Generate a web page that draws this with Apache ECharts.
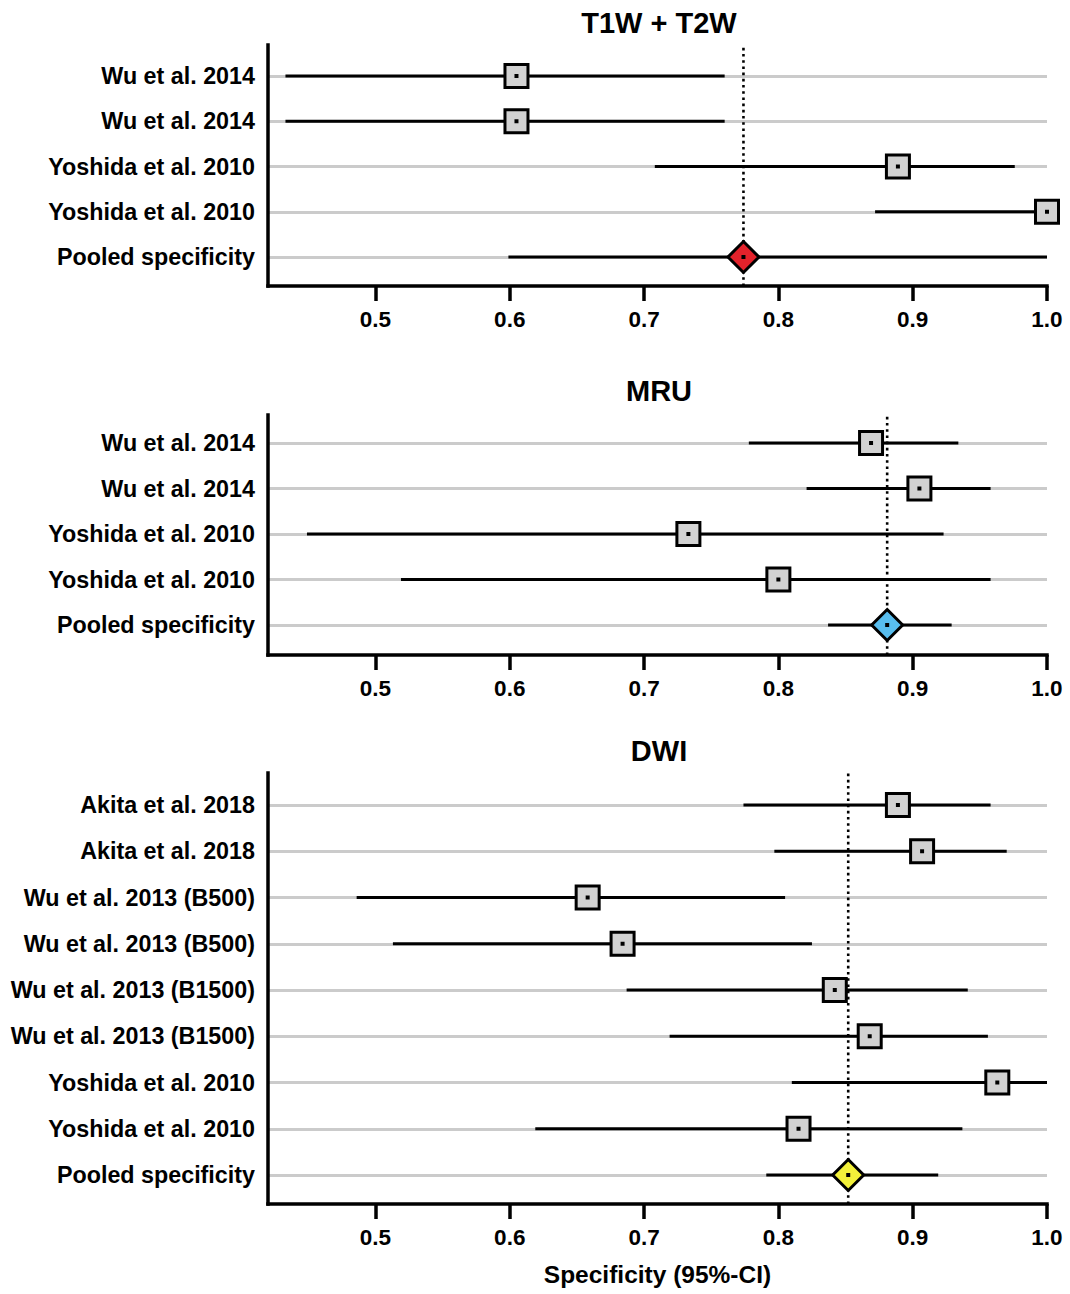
<!DOCTYPE html>
<html>
<head>
<meta charset="utf-8">
<script src="https://cdn.jsdelivr.net/npm/echarts@6/dist/echarts.min.js"></script>
<style>
html,body{margin:0;padding:0;background:#fff;}
#chart{width:1070px;height:1294px;}
</style>
</head>
<body>
<div id="chart"></div>
<script>
// ---------- DATA ----------
const panelTitles = ['T1W + T2W', 'MRU', 'DWI'];
const xTicks = [0.5, 0.6, 0.7, 0.8, 0.9, 1.0];
const xAxisTitle = 'Specificity (95%-CI)';

const t12Labels = ['Wu et al. 2014', 'Wu et al. 2014', 'Yoshida et al. 2010', 'Yoshida et al. 2010', 'Pooled specificity'];
const t12Est = [0.605, 0.605, 0.889, 1.000, 0.774];
const t12Lo  = [0.433, 0.433, 0.708, 0.872, 0.599];
const t12Hi  = [0.760, 0.760, 0.976, 1.000, 1.000];

const mruLabels = ['Wu et al. 2014', 'Wu et al. 2014', 'Yoshida et al. 2010', 'Yoshida et al. 2010', 'Pooled specificity'];
const mruEst = [0.869, 0.905, 0.733, 0.800, 0.881];
const mruLo  = [0.778, 0.821, 0.449, 0.519, 0.837];
const mruHi  = [0.934, 0.958, 0.923, 0.958, 0.929];

const dwiLabels = ['Akita et al. 2018', 'Akita et al. 2018', 'Wu et al. 2013 (B500)', 'Wu et al. 2013 (B500)', 'Wu et al. 2013 (B1500)', 'Wu et al. 2013 (B1500)', 'Yoshida et al. 2010', 'Yoshida et al. 2010', 'Pooled specificity'];
const dwiEst = [0.889, 0.907, 0.658, 0.684, 0.842, 0.868, 0.963, 0.815, 0.852];
const dwiLo  = [0.774, 0.797, 0.486, 0.513, 0.687, 0.719, 0.810, 0.619, 0.791];
const dwiHi  = [0.958, 0.970, 0.805, 0.825, 0.941, 0.956, 1.000, 0.937, 0.919];

// ---------- STYLE / LAYOUT ----------
const FONT = "'Liberation Sans', Arial, Helvetica, sans-serif";
const X_MIN = 0.42, X_MAX = 1.0;
const GRID_LEFT = 268, GRID_RIGHT = 23;
const pooledColors = ['#e3222b', '#58bdee', '#f3f13a'];
const layout = [
  {rowTop: 76,  rowBottom: 257,  frameTop: 45,  frameBottom: 286,  titleTop: 3},
  {rowTop: 443, rowBottom: 625,  frameTop: 415, frameBottom: 655,  titleTop: 371},
  {rowTop: 805, rowBottom: 1175, frameTop: 773, frameBottom: 1204, titleTop: 731}
];
const panels = [
  {labels: t12Labels, est: t12Est, lo: t12Lo, hi: t12Hi},
  {labels: mruLabels, est: mruEst, lo: mruLo, hi: mruHi},
  {labels: dwiLabels, est: dwiEst, lo: dwiLo, hi: dwiHi}
];

const chart = echarts.init(document.getElementById('chart'), null, {renderer: 'svg'});

const grid = [], xAxis = [], yAxis = [], series = [], title = [];

panels.forEach((p, i) => {
  const L = layout[i];
  const ga = i * 2, gb = i * 2 + 1;
  const n = p.labels.length;
  // data grid (rows)
  grid.push({left: GRID_LEFT, right: GRID_RIGHT, top: L.rowTop, height: L.rowBottom - L.rowTop});
  // frame grid (axes)
  grid.push({left: GRID_LEFT, right: GRID_RIGHT, top: L.frameTop, height: L.frameBottom - L.frameTop});

  xAxis.push({gridIndex: ga, type: 'value', min: X_MIN, max: X_MAX, show: false});
  xAxis.push({
    gridIndex: gb, type: 'value', min: X_MIN, max: X_MAX,
    axisLine: {show: true, onZero: false, lineStyle: {color: '#000', width: 3.5, cap: 'square'}},
    axisTick: {show: true, length: 15, lineStyle: {color: '#000', width: 3.5}, customValues: xTicks},
    axisLabel: {show: true, customValues: xTicks, margin: 22, color: '#000',
      fontFamily: FONT, fontWeight: 'bold', fontSize: 22.5,
      formatter: v => Number(v).toFixed(1)},
    splitLine: {show: false},
    name: i === 2 ? xAxisTitle : '',
    nameLocation: 'middle', nameGap: 58,
    nameTextStyle: {fontFamily: FONT, fontWeight: 'bold', fontSize: 24.5, color: '#000'}
  });

  yAxis.push({
    gridIndex: ga, type: 'category', data: p.labels, inverse: true, boundaryGap: false,
    axisLine: {show: false}, axisTick: {show: false},
    axisLabel: {interval: 0, margin: 13, color: '#000', fontFamily: FONT, fontWeight: 'bold', fontSize: 23.3},
    splitLine: {show: true, interval: 0, lineStyle: {color: '#cbcbcb', width: 3}}
  });
  yAxis.push({
    gridIndex: gb, type: 'value', min: 0, max: 1,
    axisLine: {show: true, onZero: false, lineStyle: {color: '#000', width: 3.5, cap: 'square'}},
    axisTick: {show: false}, axisLabel: {show: false}, splitLine: {show: false}
  });

  title.push({
    text: panelTitles[i], left: 654, top: L.titleTop,
    textAlign: 'center',
    textStyle: {fontFamily: FONT, fontWeight: 'bold', fontSize: 29, color: '#000'}
  });

  const rows = p.labels.map((lab, k) => [p.lo[k], p.est[k], p.hi[k], k]);

  // CI lines
  series.push({
    type: 'custom', xAxisIndex: ga, yAxisIndex: ga, z: 2,
    data: rows, encode: {x: [0, 1, 2], y: 3},
    renderItem: (params, api) => {
      const a = api.coord([api.value(0), api.value(3)]);
      const b = api.coord([api.value(2), api.value(3)]);
      return {type: 'line', shape: {x1: a[0], y1: a[1], x2: b[0], y2: b[1]},
        style: {stroke: '#000', lineWidth: 3}};
    }
  });

  // dotted reference line at pooled estimate
  const pooled = p.est[n - 1];
  series.push({
    type: 'line', xAxisIndex: gb, yAxisIndex: gb, z: 3, symbol: 'none', silent: true,
    data: [[pooled, 0], [pooled, 1]],
    lineStyle: {color: '#000', width: 2.6, type: [2.6, 3.6]}
  });

  // markers
  const col = pooledColors[i];
  series.push({
    type: 'custom', xAxisIndex: ga, yAxisIndex: ga, z: 5,
    data: rows, encode: {x: [0, 1, 2], y: 3},
    renderItem: (params, api) => {
      const idx = api.value(3);
      const c = api.coord([api.value(1), idx]);
      const children = [];
      if (idx === n - 1) {
        const hw = 15.5, hh = 15.5;
        children.push({type: 'polygon',
          shape: {points: [[c[0], c[1] - hh], [c[0] + hw, c[1]], [c[0], c[1] + hh], [c[0] - hw, c[1]]]},
          style: {fill: col, stroke: '#000', lineWidth: 3, lineJoin: 'miter'}});
      } else {
        const s = 23;
        children.push({type: 'rect', shape: {x: c[0] - s / 2, y: c[1] - s / 2, width: s, height: s},
          style: {fill: '#d2d2d2', stroke: '#000', lineWidth: 3}});
      }
      children.push({type: 'rect', shape: {x: c[0] - 2, y: c[1] - 2, width: 4, height: 4},
        style: {fill: '#000'}});
      return {type: 'group', children};
    }
  });
});

chart.setOption({
  animation: false,
  backgroundColor: '#fff',
  title, grid, xAxis, yAxis, series
});
</script>
</body>
</html>
